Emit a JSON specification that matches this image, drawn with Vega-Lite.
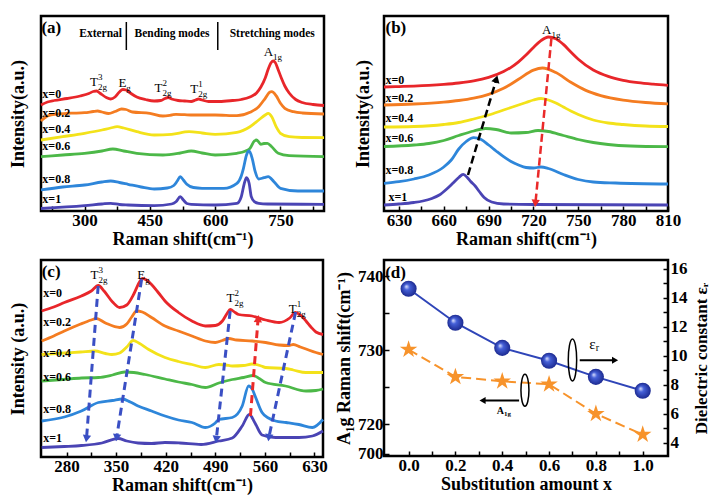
{
"$schema":"https://vega.github.io/schema/vega-lite/v6.json",
"background":"white",
"padding":{"left":7,"top":14,"right":0,"bottom":0},
"columns":2,
"spacing":{"row":8,"column":3},
"config":{
 "font":"Liberation Serif",
 "view":{"stroke":"black","strokeWidth":2.5},
 "axis":{"domain":false,"grid":false,"tickColor":"black","tickWidth":1.5,"tickSize":-5,"labelFont":"Liberation Serif","labelFontSize":17,"labelFontWeight":"bold","labelColor":"black","labelPadding":6,"titleFont":"Liberation Serif","titleFontSize":18,"titleFontWeight":"bold","titleColor":"black","labelFlush":false,"labelOverlap":false},
 "text":{"font":"Liberation Serif","color":"black"}
},
"datasets":{
"a":[
{"s":"x=0","x":200,"y":106},{"s":"x=0","x":215,"y":109},{"s":"x=0","x":230,"y":110.5},{"s":"x=0","x":260,"y":112.5},{"s":"x=0","x":290,"y":115},{"s":"x=0","x":310,"y":117.5},{"s":"x=0","x":320,"y":119.5},{"s":"x=0","x":328,"y":120},{"s":"x=0","x":335,"y":118},{"s":"x=0","x":350,"y":113.5},{"s":"x=0","x":360,"y":112},{"s":"x=0","x":370,"y":114},{"s":"x=0","x":380,"y":119},{"s":"x=0","x":388,"y":121.5},{"s":"x=0","x":395,"y":121},{"s":"x=0","x":405,"y":118},{"s":"x=0","x":420,"y":114},{"s":"x=0","x":440,"y":111.5},{"s":"x=0","x":460,"y":110},{"s":"x=0","x":475,"y":110.5},{"s":"x=0","x":485,"y":112.5},{"s":"x=0","x":492,"y":113.5},{"s":"x=0","x":500,"y":112},{"s":"x=0","x":515,"y":110.5},{"s":"x=0","x":530,"y":110},{"s":"x=0","x":545,"y":109.5},{"s":"x=0","x":555,"y":111},{"s":"x=0","x":562,"y":112},{"s":"x=0","x":570,"y":111},{"s":"x=0","x":585,"y":109.5},{"s":"x=0","x":610,"y":109.5},{"s":"x=0","x":640,"y":110.5},{"s":"x=0","x":660,"y":111.5},{"s":"x=0","x":680,"y":114},{"s":"x=0","x":695,"y":118},{"s":"x=0","x":705,"y":124},{"s":"x=0","x":715,"y":133},{"s":"x=0","x":722,"y":142},{"s":"x=0","x":728,"y":148},{"s":"x=0","x":733,"y":150},{"s":"x=0","x":738,"y":148.5},{"s":"x=0","x":745,"y":141},{"s":"x=0","x":752,"y":133},{"s":"x=0","x":760,"y":125},{"s":"x=0","x":770,"y":118},{"s":"x=0","x":785,"y":111.5},{"s":"x=0","x":800,"y":108.5},{"s":"x=0","x":825,"y":106.5},{"s":"x=0","x":850,"y":105.5},
{"s":"x=0.2","x":200,"y":90},{"s":"x=0.2","x":215,"y":95},{"s":"x=0.2","x":235,"y":97},{"s":"x=0.2","x":270,"y":97.8},{"s":"x=0.2","x":300,"y":98.3},{"s":"x=0.2","x":320,"y":99.5},{"s":"x=0.2","x":330,"y":100},{"s":"x=0.2","x":340,"y":99},{"s":"x=0.2","x":355,"y":97.5},{"s":"x=0.2","x":370,"y":99.5},{"s":"x=0.2","x":385,"y":102},{"s":"x=0.2","x":395,"y":101.5},{"s":"x=0.2","x":410,"y":99},{"s":"x=0.2","x":450,"y":97.7},{"s":"x=0.2","x":480,"y":95},{"s":"x=0.2","x":500,"y":96},{"s":"x=0.2","x":510,"y":96.7},{"s":"x=0.2","x":530,"y":96.3},{"s":"x=0.2","x":550,"y":96},{"s":"x=0.2","x":600,"y":96},{"s":"x=0.2","x":650,"y":95.3},{"s":"x=0.2","x":680,"y":98.7},{"s":"x=0.2","x":700,"y":104.3},{"s":"x=0.2","x":715,"y":112.7},{"s":"x=0.2","x":725,"y":118.7},{"s":"x=0.2","x":730,"y":119.3},{"s":"x=0.2","x":740,"y":115.3},{"s":"x=0.2","x":750,"y":107.7},{"s":"x=0.2","x":760,"y":102.7},{"s":"x=0.2","x":780,"y":99.3},{"s":"x=0.2","x":800,"y":98},{"s":"x=0.2","x":850,"y":97},
{"s":"x=0.4","x":200,"y":71},{"s":"x=0.4","x":250,"y":74.3},{"s":"x=0.4","x":300,"y":77.7},{"s":"x=0.4","x":340,"y":81},{"s":"x=0.4","x":360,"y":83},{"s":"x=0.4","x":375,"y":84.3},{"s":"x=0.4","x":390,"y":83},{"s":"x=0.4","x":420,"y":79.3},{"s":"x=0.4","x":460,"y":76},{"s":"x=0.4","x":500,"y":76.7},{"s":"x=0.4","x":540,"y":79.3},{"s":"x=0.4","x":570,"y":78},{"s":"x=0.4","x":600,"y":76.7},{"s":"x=0.4","x":650,"y":78.7},{"s":"x=0.4","x":680,"y":84.3},{"s":"x=0.4","x":700,"y":91},{"s":"x=0.4","x":715,"y":96},{"s":"x=0.4","x":722,"y":97.7},{"s":"x=0.4","x":730,"y":94.3},{"s":"x=0.4","x":740,"y":84.3},{"s":"x=0.4","x":750,"y":77.7},{"s":"x=0.4","x":770,"y":74.3},{"s":"x=0.4","x":800,"y":73.5},{"s":"x=0.4","x":850,"y":73.3},
{"s":"x=0.6","x":200,"y":54.3},{"s":"x=0.6","x":250,"y":56},{"s":"x=0.6","x":300,"y":57.7},{"s":"x=0.6","x":340,"y":60},{"s":"x=0.6","x":365,"y":62},{"s":"x=0.6","x":390,"y":60},{"s":"x=0.6","x":420,"y":57.7},{"s":"x=0.6","x":480,"y":56},{"s":"x=0.6","x":520,"y":58},{"s":"x=0.6","x":545,"y":60},{"s":"x=0.6","x":570,"y":58},{"s":"x=0.6","x":600,"y":56},{"s":"x=0.6","x":650,"y":57.7},{"s":"x=0.6","x":670,"y":60},{"s":"x=0.6","x":680,"y":62.7},{"s":"x=0.6","x":690,"y":70},{"s":"x=0.6","x":695,"y":71},{"s":"x=0.6","x":700,"y":69},{"s":"x=0.6","x":705,"y":66.7},{"s":"x=0.6","x":712,"y":67.5},{"s":"x=0.6","x":720,"y":67.7},{"s":"x=0.6","x":730,"y":64.3},{"s":"x=0.6","x":745,"y":57.7},{"s":"x=0.6","x":770,"y":55.3},{"s":"x=0.6","x":850,"y":54.3},
{"s":"x=0.8","x":200,"y":21},{"s":"x=0.8","x":250,"y":24},{"s":"x=0.8","x":300,"y":26},{"s":"x=0.8","x":340,"y":29},{"s":"x=0.8","x":360,"y":30},{"s":"x=0.8","x":380,"y":28.5},{"s":"x=0.8","x":400,"y":26.7},{"s":"x=0.8","x":430,"y":24},{"s":"x=0.8","x":460,"y":22},{"s":"x=0.8","x":490,"y":23},{"s":"x=0.8","x":505,"y":25.5},{"s":"x=0.8","x":513,"y":30},{"s":"x=0.8","x":520,"y":34.3},{"s":"x=0.8","x":527,"y":31},{"s":"x=0.8","x":535,"y":26.7},{"s":"x=0.8","x":550,"y":23.5},{"s":"x=0.8","x":570,"y":22.7},{"s":"x=0.8","x":620,"y":22.7},{"s":"x=0.8","x":650,"y":27.7},{"s":"x=0.8","x":660,"y":35},{"s":"x=0.8","x":665,"y":42.7},{"s":"x=0.8","x":672,"y":56},{"s":"x=0.8","x":678,"y":60},{"s":"x=0.8","x":685,"y":52.7},{"s":"x=0.8","x":692,"y":39.3},{"s":"x=0.8","x":700,"y":32},{"s":"x=0.8","x":712,"y":33.3},{"s":"x=0.8","x":722,"y":34.3},{"s":"x=0.8","x":735,"y":29.3},{"s":"x=0.8","x":750,"y":22.7},{"s":"x=0.8","x":790,"y":20},{"s":"x=0.8","x":850,"y":20},
{"s":"x=1","x":200,"y":2.5},{"s":"x=1","x":300,"y":5.3},{"s":"x=1","x":340,"y":7},{"s":"x=1","x":360,"y":7.7},{"s":"x=1","x":380,"y":6.5},{"s":"x=1","x":400,"y":6},{"s":"x=1","x":460,"y":5.3},{"s":"x=1","x":500,"y":7},{"s":"x=1","x":510,"y":9.3},{"s":"x=1","x":520,"y":14.3},{"s":"x=1","x":527,"y":11},{"s":"x=1","x":535,"y":7.5},{"s":"x=1","x":545,"y":6.7},{"s":"x=1","x":600,"y":6},{"s":"x=1","x":650,"y":7.7},{"s":"x=1","x":660,"y":14.3},{"s":"x=1","x":667,"y":27.7},{"s":"x=1","x":672,"y":33.3},{"s":"x=1","x":678,"y":27.7},{"s":"x=1","x":683,"y":14.3},{"s":"x=1","x":690,"y":9.3},{"s":"x=1","x":700,"y":7.7},{"s":"x=1","x":720,"y":7},{"s":"x=1","x":850,"y":6.7}
],
"b":[
{"s":"x=0","x":620,"y":124},{"s":"x=0","x":630,"y":124.4},{"s":"x=0","x":640,"y":124.9},{"s":"x=0","x":650,"y":125.6},{"s":"x=0","x":660,"y":126.6},{"s":"x=0","x":670,"y":128},{"s":"x=0","x":680,"y":130.1},{"s":"x=0","x":690,"y":133.6},{"s":"x=0","x":700,"y":139.4},{"s":"x=0","x":705,"y":143.7},{"s":"x=0","x":710,"y":149.2},{"s":"x=0","x":715,"y":156},{"s":"x=0","x":720,"y":163.6},{"s":"x=0","x":725,"y":170.4},{"s":"x=0","x":730,"y":174},{"s":"x=0","x":735,"y":172.3},{"s":"x=0","x":740,"y":166.6},{"s":"x=0","x":745,"y":159},{"s":"x=0","x":750,"y":151.8},{"s":"x=0","x":760,"y":141},{"s":"x=0","x":770,"y":134.6},{"s":"x=0","x":780,"y":130.7},{"s":"x=0","x":790,"y":128.3},{"s":"x=0","x":800,"y":126.8},{"s":"x=0","x":810,"y":125.7},
{"s":"x=0.2","x":620,"y":106},{"s":"x=0.2","x":640,"y":107},{"s":"x=0.2","x":660,"y":108.9},{"s":"x=0.2","x":670,"y":110.5},{"s":"x=0.2","x":680,"y":112.9},{"s":"x=0.2","x":690,"y":116.7},{"s":"x=0.2","x":700,"y":122.7},{"s":"x=0.2","x":710,"y":131.7},{"s":"x=0.2","x":720,"y":140.9},{"s":"x=0.2","x":726,"y":143},{"s":"x=0.2","x":735,"y":138.5},{"s":"x=0.2","x":745,"y":128.7},{"s":"x=0.2","x":755,"y":120.6},{"s":"x=0.2","x":765,"y":115.4},{"s":"x=0.2","x":780,"y":110.9},{"s":"x=0.2","x":795,"y":108.5},{"s":"x=0.2","x":810,"y":107.2},
{"s":"x=0.4","x":620,"y":84},{"s":"x=0.4","x":640,"y":84.5},{"s":"x=0.4","x":660,"y":86.5},{"s":"x=0.4","x":670,"y":88.5},{"s":"x=0.4","x":680,"y":92},{"s":"x=0.4","x":690,"y":96},{"s":"x=0.4","x":700,"y":101},{"s":"x=0.4","x":710,"y":106},{"s":"x=0.4","x":715,"y":108.5},{"s":"x=0.4","x":720,"y":111},{"s":"x=0.4","x":725,"y":112.5},{"s":"x=0.4","x":730,"y":111},{"s":"x=0.4","x":735,"y":108},{"s":"x=0.4","x":740,"y":104},{"s":"x=0.4","x":745,"y":100},{"s":"x=0.4","x":750,"y":96.5},{"s":"x=0.4","x":760,"y":91},{"s":"x=0.4","x":770,"y":88},{"s":"x=0.4","x":780,"y":86.5},{"s":"x=0.4","x":795,"y":85},{"s":"x=0.4","x":810,"y":84.5},
{"s":"x=0.6","x":620,"y":64.5},{"s":"x=0.6","x":640,"y":66},{"s":"x=0.6","x":650,"y":67.5},{"s":"x=0.6","x":660,"y":70.5},{"s":"x=0.6","x":670,"y":75.5},{"s":"x=0.6","x":680,"y":80},{"s":"x=0.6","x":688,"y":82.5},{"s":"x=0.6","x":695,"y":81.5},{"s":"x=0.6","x":705,"y":78},{"s":"x=0.6","x":715,"y":78.5},{"s":"x=0.6","x":723,"y":80.5},{"s":"x=0.6","x":730,"y":79.5},{"s":"x=0.6","x":740,"y":75.5},{"s":"x=0.6","x":750,"y":71.5},{"s":"x=0.6","x":760,"y":68.5},{"s":"x=0.6","x":770,"y":66.5},{"s":"x=0.6","x":785,"y":65},{"s":"x=0.6","x":810,"y":64.3},
{"s":"x=0.8","x":620,"y":27.7},{"s":"x=0.8","x":630,"y":29.3},{"s":"x=0.8","x":640,"y":32},{"s":"x=0.8","x":650,"y":36},{"s":"x=0.8","x":660,"y":44},{"s":"x=0.8","x":665,"y":51},{"s":"x=0.8","x":670,"y":62},{"s":"x=0.8","x":675,"y":69.5},{"s":"x=0.8","x":680,"y":73.3},{"s":"x=0.8","x":685,"y":71.5},{"s":"x=0.8","x":690,"y":66},{"s":"x=0.8","x":695,"y":60},{"s":"x=0.8","x":700,"y":54.3},{"s":"x=0.8","x":705,"y":49.5},{"s":"x=0.8","x":710,"y":46},{"s":"x=0.8","x":715,"y":43.5},{"s":"x=0.8","x":720,"y":43},{"s":"x=0.8","x":725,"y":44},{"s":"x=0.8","x":730,"y":42.5},{"s":"x=0.8","x":740,"y":36.5},{"s":"x=0.8","x":750,"y":31.5},{"s":"x=0.8","x":760,"y":29},{"s":"x=0.8","x":775,"y":28},{"s":"x=0.8","x":810,"y":27},
{"s":"x=1","x":620,"y":6},{"s":"x=1","x":630,"y":7},{"s":"x=1","x":640,"y":8.5},{"s":"x=1","x":646,"y":10},{"s":"x=1","x":652,"y":12.5},{"s":"x=1","x":657,"y":16},{"s":"x=1","x":662,"y":22},{"s":"x=1","x":666,"y":27.7},{"s":"x=1","x":670,"y":33.5},{"s":"x=1","x":673,"y":36.7},{"s":"x=1","x":676,"y":33},{"s":"x=1","x":678,"y":29.5},{"s":"x=1","x":681,"y":25},{"s":"x=1","x":684,"y":19},{"s":"x=1","x":687,"y":13.5},{"s":"x=1","x":692,"y":9},{"s":"x=1","x":700,"y":7},{"s":"x=1","x":720,"y":6.5},{"s":"x=1","x":810,"y":6}
],
"c":[
{"s":"x=0","x":245,"y":146},{"s":"x=0","x":262,"y":150},{"s":"x=0","x":277,"y":154.5},{"s":"x=0","x":301,"y":161},{"s":"x=0","x":315,"y":166},{"s":"x=0","x":325,"y":171.5},{"s":"x=0","x":333,"y":166},{"s":"x=0","x":345,"y":155},{"s":"x=0","x":355,"y":149.5},{"s":"x=0","x":365,"y":152},{"s":"x=0","x":375,"y":163},{"s":"x=0","x":383,"y":175},{"s":"x=0","x":387,"y":178.5},{"s":"x=0","x":393,"y":177},{"s":"x=0","x":400,"y":172.5},{"s":"x=0","x":410,"y":164},{"s":"x=0","x":419,"y":156},{"s":"x=0","x":438,"y":144.5},{"s":"x=0","x":457,"y":136},{"s":"x=0","x":476,"y":131},{"s":"x=0","x":490,"y":131.5},{"s":"x=0","x":500,"y":136},{"s":"x=0","x":507,"y":144},{"s":"x=0","x":511,"y":147.5},{"s":"x=0","x":518,"y":144.5},{"s":"x=0","x":523,"y":142.5},{"s":"x=0","x":542,"y":141},{"s":"x=0","x":561,"y":137},{"s":"x=0","x":580,"y":134.5},{"s":"x=0","x":595,"y":139},{"s":"x=0","x":603,"y":144.5},{"s":"x=0","x":610,"y":142},{"s":"x=0","x":618,"y":136},{"s":"x=0","x":625,"y":130},{"s":"x=0","x":632,"y":125},{"s":"x=0","x":642,"y":122.5},
{"s":"x=0.2","x":245,"y":116},{"s":"x=0.2","x":262,"y":121},{"s":"x=0.2","x":277,"y":126},{"s":"x=0.2","x":300,"y":133},{"s":"x=0.2","x":315,"y":137},{"s":"x=0.2","x":322,"y":138.5},{"s":"x=0.2","x":335,"y":134},{"s":"x=0.2","x":355,"y":129.5},{"s":"x=0.2","x":365,"y":133},{"s":"x=0.2","x":372,"y":140},{"s":"x=0.2","x":379,"y":146},{"s":"x=0.2","x":387,"y":145},{"s":"x=0.2","x":400,"y":139.5},{"s":"x=0.2","x":419,"y":131},{"s":"x=0.2","x":438,"y":126},{"s":"x=0.2","x":457,"y":121},{"s":"x=0.2","x":476,"y":116},{"s":"x=0.2","x":490,"y":114.5},{"s":"x=0.2","x":500,"y":116.5},{"s":"x=0.2","x":509,"y":118.5},{"s":"x=0.2","x":520,"y":117},{"s":"x=0.2","x":542,"y":116},{"s":"x=0.2","x":561,"y":114.5},{"s":"x=0.2","x":580,"y":112},{"s":"x=0.2","x":594,"y":111.5},{"s":"x=0.2","x":600,"y":112.5},{"s":"x=0.2","x":610,"y":110},{"s":"x=0.2","x":618,"y":108},{"s":"x=0.2","x":632,"y":104.5},{"s":"x=0.2","x":642,"y":102.5},
{"s":"x=0.4","x":245,"y":102.5},{"s":"x=0.4","x":277,"y":104},{"s":"x=0.4","x":300,"y":105},{"s":"x=0.4","x":320,"y":106},{"s":"x=0.4","x":335,"y":103.5},{"s":"x=0.4","x":344,"y":102.5},{"s":"x=0.4","x":355,"y":104},{"s":"x=0.4","x":365,"y":110},{"s":"x=0.4","x":374,"y":116.5},{"s":"x=0.4","x":382,"y":114},{"s":"x=0.4","x":396,"y":107.5},{"s":"x=0.4","x":419,"y":99.5},{"s":"x=0.4","x":438,"y":95.5},{"s":"x=0.4","x":457,"y":92.5},{"s":"x=0.4","x":476,"y":89.5},{"s":"x=0.4","x":495,"y":92.5},{"s":"x=0.4","x":505,"y":92},{"s":"x=0.4","x":514,"y":91},{"s":"x=0.4","x":530,"y":91.5},{"s":"x=0.4","x":542,"y":93},{"s":"x=0.4","x":555,"y":91},{"s":"x=0.4","x":561,"y":89.5},{"s":"x=0.4","x":589,"y":88.5},{"s":"x=0.4","x":600,"y":87},{"s":"x=0.4","x":618,"y":84.5},{"s":"x=0.4","x":642,"y":84.5},
{"s":"x=0.6","x":245,"y":76},{"s":"x=0.6","x":275,"y":77.5},{"s":"x=0.6","x":301,"y":79},{"s":"x=0.6","x":325,"y":79.5},{"s":"x=0.6","x":345,"y":82},{"s":"x=0.6","x":362,"y":85},{"s":"x=0.6","x":375,"y":84.5},{"s":"x=0.6","x":391,"y":82.5},{"s":"x=0.6","x":419,"y":78},{"s":"x=0.6","x":438,"y":75},{"s":"x=0.6","x":457,"y":72.5},{"s":"x=0.6","x":476,"y":69.5},{"s":"x=0.6","x":495,"y":74},{"s":"x=0.6","x":514,"y":77.5},{"s":"x=0.6","x":530,"y":79.5},{"s":"x=0.6","x":544,"y":81.5},{"s":"x=0.6","x":552,"y":78.5},{"s":"x=0.6","x":561,"y":74.5},{"s":"x=0.6","x":589,"y":71},{"s":"x=0.6","x":618,"y":66},{"s":"x=0.6","x":632,"y":66.5},{"s":"x=0.6","x":642,"y":68},
{"s":"x=0.8","x":245,"y":36},{"s":"x=0.8","x":277,"y":40},{"s":"x=0.8","x":301,"y":46},{"s":"x=0.8","x":325,"y":54.5},{"s":"x=0.8","x":345,"y":56.5},{"s":"x=0.8","x":359,"y":58},{"s":"x=0.8","x":370,"y":55},{"s":"x=0.8","x":381,"y":51},{"s":"x=0.8","x":400,"y":46},{"s":"x=0.8","x":419,"y":41},{"s":"x=0.8","x":438,"y":37},{"s":"x=0.8","x":457,"y":34.5},{"s":"x=0.8","x":476,"y":29.5},{"s":"x=0.8","x":490,"y":34},{"s":"x=0.8","x":495,"y":37.5},{"s":"x=0.8","x":514,"y":39.5},{"s":"x=0.8","x":528,"y":51},{"s":"x=0.8","x":537,"y":71},{"s":"x=0.8","x":542,"y":68},{"s":"x=0.8","x":547,"y":59.5},{"s":"x=0.8","x":556,"y":44.5},{"s":"x=0.8","x":565,"y":39},{"s":"x=0.8","x":575,"y":36},{"s":"x=0.8","x":590,"y":34.5},{"s":"x=0.8","x":608,"y":32.5},{"s":"x=0.8","x":627,"y":29.5},{"s":"x=0.8","x":642,"y":37.5},
{"s":"x=1","x":245,"y":9.5},{"s":"x=1","x":277,"y":10.5},{"s":"x=1","x":301,"y":11.5},{"s":"x=1","x":330,"y":14},{"s":"x=1","x":353,"y":18.5},{"s":"x=1","x":365,"y":16},{"s":"x=1","x":381,"y":14},{"s":"x=1","x":400,"y":13.5},{"s":"x=1","x":419,"y":14.5},{"s":"x=1","x":440,"y":14},{"s":"x=1","x":470,"y":12.5},{"s":"x=1","x":495,"y":16},{"s":"x=1","x":514,"y":19},{"s":"x=1","x":528,"y":31},{"s":"x=1","x":538,"y":42.5},{"s":"x=1","x":546,"y":34},{"s":"x=1","x":556,"y":22},{"s":"x=1","x":575,"y":19.5},{"s":"x=1","x":608,"y":19.5},{"s":"x=1","x":627,"y":21},{"s":"x=1","x":642,"y":26}
],
"lab":[
{"p":"a","s":"x=0","x":203,"y":117.3},{"p":"a","s":"x=0.2","x":203,"y":98.5},{"p":"a","s":"x=0.4","x":203,"y":82.3},{"p":"a","s":"x=0.6","x":203,"y":65},{"p":"a","s":"x=0.8","x":203,"y":32.3},{"p":"a","s":"x=1","x":203,"y":11.7},
{"p":"b","s":"x=0","x":621,"y":131},{"p":"b","s":"x=0.2","x":621,"y":112.7},{"p":"b","s":"x=0.4","x":621,"y":92.7},{"p":"b","s":"x=0.6","x":621,"y":73.3},{"p":"b","s":"x=0.8","x":621,"y":41},{"p":"b","s":"x=1","x":623,"y":14.3},
{"p":"c","s":"x=0","x":247,"y":164.3},{"p":"c","s":"x=0.2","x":247,"y":135},{"p":"c","s":"x=0.4","x":247,"y":104.3},{"p":"c","s":"x=0.6","x":247,"y":80},{"p":"c","s":"x=0.8","x":247,"y":48.3},{"p":"c","s":"x=1","x":247,"y":18.7}
],
"pk":[
{"p":"a","m":"T","b":"2g","u":"3","x":331,"y":129},{"p":"a","m":"E","b":"g","u":"","x":396,"y":128},{"p":"a","m":"T","b":"2g","u":"2","x":479,"y":123},{"p":"a","m":"T","b":"2g","u":"1","x":561,"y":121.7},{"p":"a","m":"A","b":"1g","u":"","x":733,"y":159},
{"p":"b","m":"A","b":"1g","u":"","x":732,"y":180.7},
{"p":"c","m":"T","b":"2g","u":"3","x":325,"y":181.7},{"p":"c","m":"E","b":"g","u":"","x":391,"y":181.7},{"p":"c","m":"T","b":"2g","u":"2","x":517,"y":159.3},{"p":"c","m":"T","b":"2g","u":"1","x":605,"y":147.7}
],
"tags":[{"p":"a","t":"(a)","x":201,"y":183},{"p":"b","t":"(b)","x":621,"y":183},{"p":"c","t":"(c)","x":245,"y":185}],
"modes":[{"t":"External","x":337,"y":177},{"t":"Bending modes","x":501,"y":177},{"t":"Stretching modes","x":731,"y":177}],
"seps":[{"x":396,"y":161,"y2":189},{"x":606,"y":161,"y2":189}],
"arr":[
{"g":"k","x":676.2,"y":36,"x2":695.2,"y2":132},{"g":"rb","x":732,"y":172.7,"x2":721.3,"y2":7.7},
{"g":"cb","x":324.7,"y":171,"x2":308.2,"y2":18.3},{"g":"cb","x":386,"y":177.7,"x2":350.7,"y2":19.3},{"g":"cb","x":511,"y":146,"x2":491.4,"y2":17.7},{"g":"cb","x":603.3,"y":145,"x2":565.5,"y2":19.3},{"g":"cr","x":539.6,"y":41,"x2":550.4,"y2":138.3}
],
"hd":[
{"g":"k","x":695.2,"y":132},{"g":"rb","x":721.3,"y":7.7},
{"g":"cb","x":308.2,"y":18.3},{"g":"cb","x":350.7,"y":19.3},{"g":"cb","x":491.4,"y":17.7},{"g":"cb","x":565.5,"y":19.3},{"g":"cr","x":550.4,"y":138.3}
],
"dA":[{"x":0,"y":730.1},{"x":0.2,"y":726.4},{"x":0.4,"y":725.8},{"x":0.6,"y":725.4},{"x":0.8,"y":721.4},{"x":1.0,"y":718.6}],
"dE":[{"x":0,"y":14.62},{"x":0.2,"y":12.28},{"x":0.4,"y":10.55},{"x":0.6,"y":9.66},{"x":0.8,"y":8.55},{"x":1.0,"y":7.59}],
"dann":[
{"id":"tag","m":"(d)","b":"","x":-0.1,"y":740.4},
{"id":"e1","m":"","b":"","x":0.700,"y":9.72},{"id":"e2","m":"","b":"","x":0.497,"y":724.6},
{"id":"te","m":"ε","b":"r","x":0.799,"y":10.8},{"id":"ta","m":"A","b":"1g","x":0.408,"y":721.8}
],
"darr":[{"id":"e","x":0.731,"y":9.70,"x2":0.882,"y2":9.70},{"id":"a","x":0.472,"y":723.2,"x2":0.316,"y2":723.2}],
"dhd":[{"id":"e","x":0.882,"y":9.70},{"id":"a","x":0.316,"y":723.2}]
},
"concat":[
{
 "width":283,"height":195,
 "encoding":{
  "x":{"field":"x","type":"quantitative","scale":{"domain":[200,850],"nice":false,"zero":false},"axis":{"title":"Raman shift(cm⁻¹)","values":[225,300,375,450,525,600,675,750,825],"labelExpr":"datum.value % 150 == 0 ? datum.label : ''","titlePadding":2}},
  "y":{"field":"y","type":"quantitative","scale":{"domain":[0,195],"nice":false,"zero":false},"axis":{"title":"Intensity(a.u.)","labels":false,"ticks":false,"titlePadding":14}}
 },
 "layer":[
  {"data":{"name":"a"},"mark":{"type":"line","strokeWidth":2.8,"interpolate":"monotone"},"encoding":{"color":{"field":"s","type":"nominal","scale":{"domain":["x=0","x=0.2","x=0.4","x=0.6","x=0.8","x=1"],"range":["#e8262a","#f47c21","#f3e21a","#4cb848","#2e86da","#4a44b4"]},"legend":null}}},
  {"data":{"name":"lab"},"transform":[{"filter":"datum.p == 'a'"}],"mark":{"type":"text","align":"left","baseline":"middle","fontSize":12,"fontWeight":"bold"},"encoding":{"text":{"field":"s"}}},
  {"data":{"name":"pk"},"transform":[{"filter":"datum.p == 'a'"}],"mark":{"type":"text","align":"right","baseline":"middle","fontSize":13},"encoding":{"text":{"field":"m"}}},
  {"data":{"name":"pk"},"transform":[{"filter":"datum.p == 'a'"}],"mark":{"type":"text","align":"left","baseline":"middle","fontSize":9,"dy":5},"encoding":{"text":{"field":"b"}}},
  {"data":{"name":"pk"},"transform":[{"filter":"datum.p == 'a'"}],"mark":{"type":"text","align":"left","baseline":"middle","fontSize":9,"dy":-5},"encoding":{"text":{"field":"u"}}},
  {"data":{"name":"tags"},"transform":[{"filter":"datum.p == 'a'"}],"mark":{"type":"text","align":"left","baseline":"middle","fontSize":17,"fontWeight":"bold"},"encoding":{"text":{"field":"t"}}},
  {"data":{"name":"modes"},"mark":{"type":"text","align":"center","baseline":"middle","fontSize":11.5,"fontWeight":"bold"},"encoding":{"text":{"field":"t"}}},
  {"data":{"name":"seps"},"mark":{"type":"rule","strokeWidth":1.5,"color":"black"},"encoding":{"y2":{"field":"y2"}}}
 ]
},
{
 "width":284,"height":195,
 "encoding":{
  "x":{"field":"x","type":"quantitative","scale":{"domain":[620,810],"nice":false,"zero":false},"axis":{"title":"Raman shift(cm⁻¹)","values":[630,645,660,675,690,705,720,735,750,765,780,795,810],"labelExpr":"datum.value % 30 == 0 ? datum.label : ''","titlePadding":2}},
  "y":{"field":"y","type":"quantitative","scale":{"domain":[0,195],"nice":false,"zero":false},"axis":{"title":"Intensity(a.u.)","labels":false,"ticks":false,"titlePadding":12}}
 },
 "layer":[
  {"data":{"name":"b"},"mark":{"type":"line","strokeWidth":2.8,"interpolate":"monotone"},"encoding":{"color":{"field":"s","type":"nominal","scale":{"domain":["x=0","x=0.2","x=0.4","x=0.6","x=0.8","x=1"],"range":["#e8262a","#f47c21","#f3e21a","#4cb848","#2e86da","#4a44b4"]},"legend":null}}},
  {"data":{"name":"arr"},"transform":[{"filter":"datum.g == 'k'"}],"mark":{"type":"rule","strokeWidth":2.5,"strokeDash":[8,4],"color":"black"},"encoding":{"x2":{"field":"x2"},"y2":{"field":"y2"}}},
  {"data":{"name":"arr"},"transform":[{"filter":"datum.g == 'rb'"}],"mark":{"type":"rule","strokeWidth":2.5,"strokeDash":[8,4],"color":"#ea2a2a"},"encoding":{"x2":{"field":"x2"},"y2":{"field":"y2"}}},
  {"data":{"name":"hd"},"transform":[{"filter":"datum.g == 'k'"}],"mark":{"type":"point","shape":"triangle-up","angle":16,"filled":true,"size":70,"color":"black","opacity":1}},
  {"data":{"name":"hd"},"transform":[{"filter":"datum.g == 'rb'"}],"mark":{"type":"point","shape":"triangle-down","angle":5,"filled":true,"size":70,"color":"#ea2a2a","opacity":1}},
  {"data":{"name":"lab"},"transform":[{"filter":"datum.p == 'b'"}],"mark":{"type":"text","align":"left","baseline":"middle","fontSize":12,"fontWeight":"bold"},"encoding":{"text":{"field":"s"}}},
  {"data":{"name":"pk"},"transform":[{"filter":"datum.p == 'b'"}],"mark":{"type":"text","align":"right","baseline":"middle","fontSize":13},"encoding":{"text":{"field":"m"}}},
  {"data":{"name":"pk"},"transform":[{"filter":"datum.p == 'b'"}],"mark":{"type":"text","align":"left","baseline":"middle","fontSize":9,"dy":5},"encoding":{"text":{"field":"b"}}},
  {"data":{"name":"tags"},"transform":[{"filter":"datum.p == 'b'"}],"mark":{"type":"text","align":"left","baseline":"middle","fontSize":17,"fontWeight":"bold"},"encoding":{"text":{"field":"t"}}}
 ]
},
{
 "width":282,"height":197,
 "encoding":{
  "x":{"field":"x","type":"quantitative","scale":{"domain":[244,642],"nice":false,"zero":false},"axis":{"title":"Raman shift(cm⁻¹)","values":[280,315,350,385,420,455,490,525,560,595,630],"labelExpr":"(datum.value - 280) % 70 == 0 ? datum.label : ''","titlePadding":2}},
  "y":{"field":"y","type":"quantitative","scale":{"domain":[0,197],"nice":false,"zero":false},"axis":{"title":"Intensity (a.u.)","labels":false,"ticks":false,"titlePadding":14}}
 },
 "layer":[
  {"data":{"name":"c"},"mark":{"type":"line","strokeWidth":2.8,"interpolate":"monotone"},"encoding":{"color":{"field":"s","type":"nominal","scale":{"domain":["x=0","x=0.2","x=0.4","x=0.6","x=0.8","x=1"],"range":["#e8262a","#f47c21","#f3e21a","#4cb848","#2e86da","#4a44b4"]},"legend":null}}},
  {"data":{"name":"arr"},"transform":[{"filter":"datum.g == 'cb'"}],"mark":{"type":"rule","strokeWidth":3,"strokeDash":[8,5],"color":"#3a4fc4"},"encoding":{"x2":{"field":"x2"},"y2":{"field":"y2"}}},
  {"data":{"name":"arr"},"transform":[{"filter":"datum.g == 'cr'"}],"mark":{"type":"rule","strokeWidth":3,"strokeDash":[8,5],"color":"#ea2a2a"},"encoding":{"x2":{"field":"x2"},"y2":{"field":"y2"}}},
  {"data":{"name":"hd"},"transform":[{"filter":"datum.g == 'cb'"}],"mark":{"type":"point","shape":"triangle-down","angle":8,"filled":true,"size":70,"color":"#3a4fc4","opacity":1}},
  {"data":{"name":"hd"},"transform":[{"filter":"datum.g == 'cr'"}],"mark":{"type":"point","shape":"triangle-up","angle":4,"filled":true,"size":70,"color":"#ea2a2a","opacity":1}},
  {"data":{"name":"lab"},"transform":[{"filter":"datum.p == 'c'"}],"mark":{"type":"text","align":"left","baseline":"middle","fontSize":12,"fontWeight":"bold"},"encoding":{"text":{"field":"s"}}},
  {"data":{"name":"pk"},"transform":[{"filter":"datum.p == 'c'"}],"mark":{"type":"text","align":"right","baseline":"middle","fontSize":13},"encoding":{"text":{"field":"m"}}},
  {"data":{"name":"pk"},"transform":[{"filter":"datum.p == 'c'"}],"mark":{"type":"text","align":"left","baseline":"middle","fontSize":9,"dy":5},"encoding":{"text":{"field":"b"}}},
  {"data":{"name":"pk"},"transform":[{"filter":"datum.p == 'c'"}],"mark":{"type":"text","align":"left","baseline":"middle","fontSize":9,"dy":-5},"encoding":{"text":{"field":"u"}}},
  {"data":{"name":"tags"},"transform":[{"filter":"datum.p == 'c'"}],"mark":{"type":"text","align":"left","baseline":"middle","fontSize":17,"fontWeight":"bold"},"encoding":{"text":{"field":"t"}}}
 ]
},
{
 "width":284,"height":196,
 "layer":[
  {
   "encoding":{
    "x":{"field":"x","type":"quantitative","scale":{"domain":[-0.105,1.108],"nice":false,"zero":false},"axis":{"title":"Substitution amount x","values":[0,0.1,0.2,0.3,0.4,0.5,0.6,0.7,0.8,0.9,1.0],"labelExpr":"round(datum.value*10) % 2 == 0 ? format(datum.value, '.1f') : ''","titlePadding":2}},
    "y":{"field":"y","type":"quantitative","scale":{"domain":[715.7,742.2],"nice":false,"zero":false},"axis":{"title":"A₁g Raman shift(cm⁻¹)","values":[716,720,725,730,735,740],"labelExpr":"datum.value == 716 ? '700' : (datum.value % 10 == 0 ? datum.label : '')","titlePadding":4}}
   },
   "layer":[
    {"data":{"name":"dA"},"mark":{"type":"line","color":"#f7932b","strokeWidth":2,"strokeDash":[10,5]}},
    {"data":{"name":"dA"},"mark":{"type":"point","shape":"M0,-1L0.2245,-0.309L0.951,-0.309L0.3633,0.118L0.5878,0.809L0,0.382L-0.5878,0.809L-0.3633,0.118L-0.951,-0.309L-0.2245,-0.309Z","filled":true,"color":"#f7932b","size":340,"opacity":1}},
    {"data":{"name":"dann"},"transform":[{"filter":"datum.id == 'e2'"}],"mark":{"type":"point","shape":"M0,-1A0.25,1,0,1,1,0,1A0.25,1,0,1,1,0,-1Z","filled":false,"color":"black","strokeWidth":1.5,"size":1024,"opacity":1}},
    {"data":{"name":"darr"},"transform":[{"filter":"datum.id == 'a'"}],"mark":{"type":"rule","strokeWidth":2,"color":"black"},"encoding":{"x2":{"field":"x2"},"y2":{"field":"y2"}}},
    {"data":{"name":"dhd"},"transform":[{"filter":"datum.id == 'a'"}],"mark":{"type":"point","shape":"triangle-left","filled":true,"size":50,"color":"black","opacity":1}},
    {"data":{"name":"dann"},"transform":[{"filter":"datum.id == 'ta'"}],"mark":{"type":"text","align":"right","baseline":"middle","fontSize":10,"fontWeight":"bold"},"encoding":{"text":{"field":"m"}}},
    {"data":{"name":"dann"},"transform":[{"filter":"datum.id == 'ta'"}],"mark":{"type":"text","align":"left","baseline":"middle","fontSize":7,"fontWeight":"bold","dy":3},"encoding":{"text":{"field":"b"}}},
    {"data":{"name":"dann"},"transform":[{"filter":"datum.id == 'tag'"}],"mark":{"type":"text","align":"left","baseline":"middle","fontSize":17,"fontWeight":"bold"},"encoding":{"text":{"field":"m"}}}
   ]
  },
  {
   "encoding":{
    "x":{"field":"x","type":"quantitative","scale":{"domain":[-0.105,1.108],"nice":false,"zero":false},"axis":{"title":"Substitution amount x","values":[0,0.1,0.2,0.3,0.4,0.5,0.6,0.7,0.8,0.9,1.0],"labelExpr":"round(datum.value*10) % 2 == 0 ? format(datum.value, '.1f') : ''","titlePadding":2}},
    "y":{"field":"y","type":"quantitative","scale":{"domain":[3.1,16.6],"nice":false,"zero":false},"axis":{"orient":"right","title":"Dielectric constant εᵣ","titleAngle":270,"titleBaseline":"top","titleFontSize":17,"values":[4,5,6,7,8,9,10,11,12,13,14,15,16],"labelExpr":"datum.value % 2 == 0 ? datum.label : ''","labelPadding":7,"titlePadding":6}}
   },
   "layer":[
    {"data":{"name":"dE"},"mark":{"type":"line","color":"#2f45b8","strokeWidth":2}},
    {"data":{"name":"dE"},"mark":{"type":"point","shape":"circle","filled":true,"size":260,"opacity":1,"fill":{"gradient":"radial","x1":0.35,"y1":0.35,"r1":0,"x2":0.5,"y2":0.5,"r2":0.5,"stops":[{"offset":0,"color":"#e6eaff"},{"offset":0.35,"color":"#4560d8"},{"offset":1,"color":"#1c2a90"}]}}},
    {"data":{"name":"dann"},"transform":[{"filter":"datum.id == 'e1'"}],"mark":{"type":"point","shape":"M0,-1A0.2,1,0,1,1,0,1A0.2,1,0,1,1,0,-1Z","filled":false,"color":"black","strokeWidth":1.5,"size":1764,"opacity":1}},
    {"data":{"name":"darr"},"transform":[{"filter":"datum.id == 'e'"}],"mark":{"type":"rule","strokeWidth":2,"color":"black"},"encoding":{"x2":{"field":"x2"},"y2":{"field":"y2"}}},
    {"data":{"name":"dhd"},"transform":[{"filter":"datum.id == 'e'"}],"mark":{"type":"point","shape":"triangle-right","filled":true,"size":50,"color":"black","opacity":1}},
    {"data":{"name":"dann"},"transform":[{"filter":"datum.id == 'te'"}],"mark":{"type":"text","align":"right","baseline":"middle","fontSize":15},"encoding":{"text":{"field":"m"}}},
    {"data":{"name":"dann"},"transform":[{"filter":"datum.id == 'te'"}],"mark":{"type":"text","align":"left","baseline":"middle","fontSize":10,"dy":4},"encoding":{"text":{"field":"b"}}}
   ]
  }
 ],
 "resolve":{"scale":{"y":"independent"},"axis":{"y":"independent"}}
}
]
}
